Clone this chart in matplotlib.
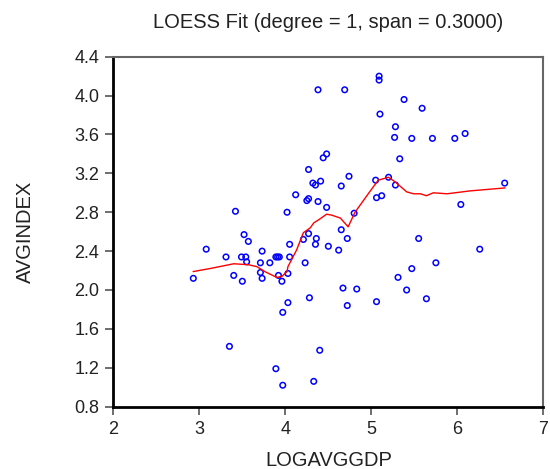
import matplotlib
matplotlib.use('Agg')
import matplotlib.pyplot as plt

plt.rcParams['font.family'] = ['Liberation Sans', 'DejaVu Sans']

# scatter data: LOGAVGGDP vs AVGINDEX
logavggdp = [4.38, 4.48, 4.44, 4.27, 4.32, 4.35, 4.41, 4.12, 4.25, 4.27,
             4.38, 4.48, 3.42, 4.02, 3.52, 4.27, 4.36, 5.09, 5.09, 4.69,
             5.38, 5.59, 5.10, 5.28, 5.27, 5.47, 5.71, 5.97, 6.09, 5.33,
             4.74, 4.65, 5.05, 5.20, 5.28, 5.12, 5.06, 4.80, 6.04, 6.55,
             4.65, 4.72, 5.55, 3.08, 3.57, 3.31, 3.49, 3.54, 3.55, 3.73,
             3.71, 3.82, 3.89, 3.91, 3.93, 4.05, 4.05, 4.21, 4.35, 4.50,
             4.23, 2.93, 3.40, 3.50, 3.71, 3.73, 3.92, 3.96, 4.03, 4.03,
             3.97, 4.28, 3.35, 4.40, 3.89, 3.97, 4.33, 4.62, 6.26, 5.75,
             5.47, 5.31, 4.67, 4.83, 5.41, 5.64, 4.72, 5.06]
avgindex = [4.06, 3.40, 3.36, 3.24, 3.10, 3.08, 3.12, 2.98, 2.92, 2.94,
            2.91, 2.85, 2.81, 2.80, 2.57, 2.58, 2.53, 4.20, 4.16, 4.06,
            3.96, 3.87, 3.81, 3.68, 3.57, 3.56, 3.56, 3.56, 3.61, 3.35,
            3.17, 3.07, 3.13, 3.16, 3.08, 2.97, 2.95, 2.79, 2.88, 3.10,
            2.62, 2.53, 2.53, 2.42, 2.50, 2.34, 2.34, 2.34, 2.29, 2.40,
            2.28, 2.28, 2.34, 2.34, 2.34, 2.47, 2.34, 2.52, 2.47, 2.45,
            2.28, 2.12, 2.15, 2.09, 2.18, 2.12, 2.15, 2.09, 2.17, 1.87,
            1.77, 1.92, 1.42, 1.38, 1.19, 1.02, 1.06, 2.41, 2.42, 2.28,
            2.22, 2.13, 2.02, 2.01, 2.00, 1.91, 1.84, 1.88]

# LOESS fit curve
fit_x = [2.93, 3.12, 3.40, 3.57, 3.67, 3.76, 3.90, 3.96, 4.02, 4.03,
         4.13, 4.21, 4.29, 4.33, 4.40, 4.48, 4.54, 4.64, 4.73, 4.81,
         4.98, 5.08, 5.20, 5.28, 5.41, 5.49, 5.57, 5.64, 5.72, 5.88,
         6.15, 6.55]
fit_y = [2.19, 2.22, 2.27, 2.26, 2.24, 2.19, 2.13, 2.14, 2.19, 2.24,
         2.41, 2.59, 2.64, 2.69, 2.73, 2.78, 2.77, 2.74, 2.65, 2.80,
         3.01, 3.13, 3.16, 3.11, 3.01, 2.99, 2.99, 2.97, 3.00, 2.99,
         3.02, 3.05]

fig = plt.figure(figsize=(5.5, 4.69), dpi=100)
ax = fig.add_axes([0.206, 0.133, 0.782, 0.746])

ax.scatter(logavggdp, avgindex, s=16, facecolors='none', edgecolors='#0000ff',
           linewidths=1.1, zorder=3)
ax.plot(fit_x, fit_y, color='#ff0000', linewidth=1.0, zorder=4)

ax.set_xlim(2, 7)
ax.set_ylim(0.8, 4.4)
ax.set_xticks([2, 3, 4, 5, 6, 7])
ax.set_yticks([0.8, 1.2, 1.6, 2.0, 2.4, 2.8, 3.2, 3.6, 4.0, 4.4])
ax.set_yticklabels(['0.8', '1.2', '1.6', '2.0', '2.4', '2.8', '3.2', '3.6', '4.0', '4.4'])

ax.tick_params(direction='out', length=6, width=1.2, color='#555555',
               labelsize=13, labelcolor='#222222', pad=4)

for side in ['left', 'bottom']:
    ax.spines[side].set_color('black')
    ax.spines[side].set_linewidth(2)
for side in ['top', 'right']:
    ax.spines[side].set_color('#666666')
    ax.spines[side].set_linewidth(1.5)

ax.text(0.5, 1.097, 'LOESS Fit (degree = 1, span = 0.3000)', transform=ax.transAxes,
        ha='center', va='center', fontsize=14.5, color='#222222')
ax.set_xlabel('LOGAVGGDP', fontsize=14.5, color='#222222')
ax.set_ylabel('AVGINDEX', fontsize=14.5, color='#222222')
ax.xaxis.set_label_coords(0.5, -0.128)
ax.yaxis.set_label_coords(-0.183, 0.5)

fig.savefig('out.png', dpi=100)
